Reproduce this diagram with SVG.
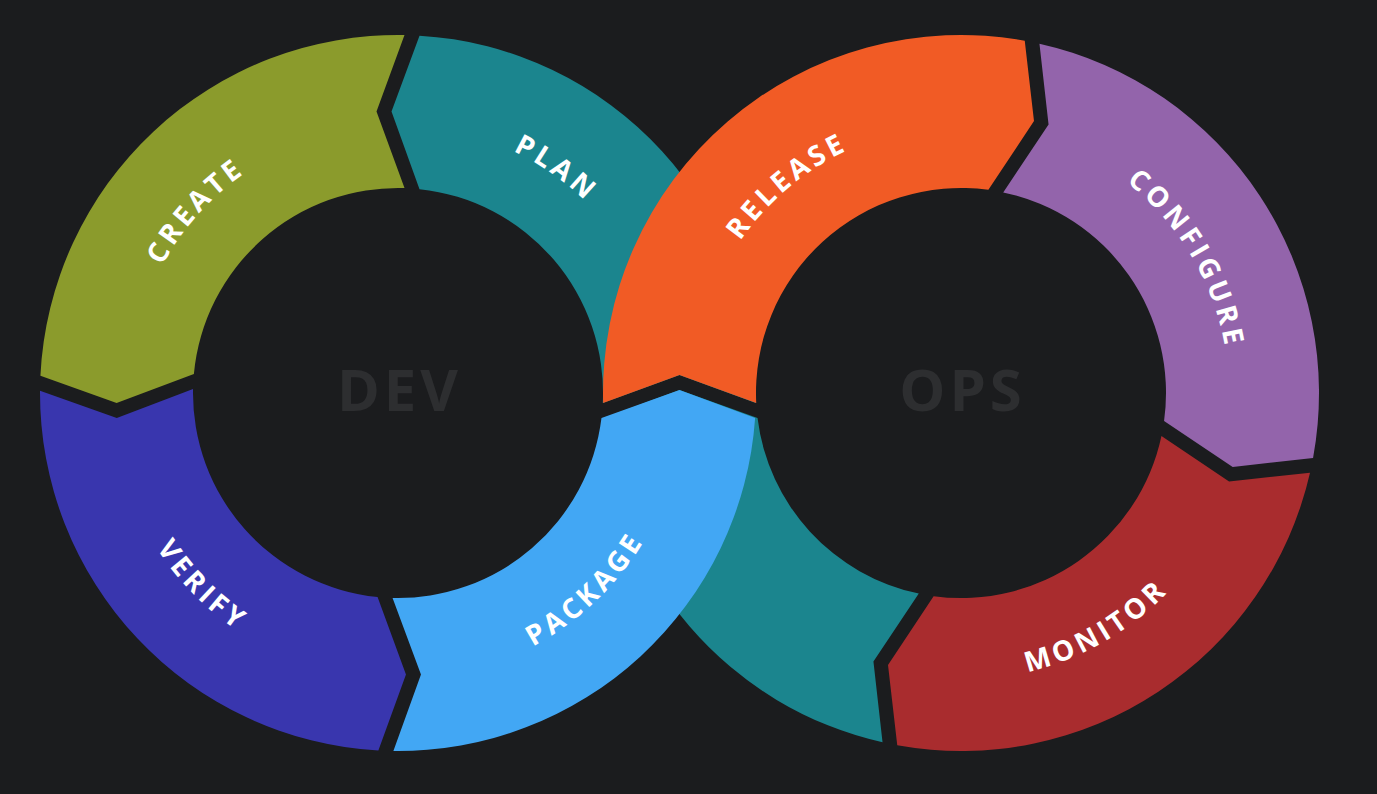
<svg xmlns="http://www.w3.org/2000/svg" width="1377" height="794" viewBox="0 0 1377 794">
<defs>
<style>
.lbl{font-family:"Open Sans","Liberation Sans",sans-serif;font-weight:700;font-size:28px;letter-spacing:4px;fill:#ffffff;text-anchor:middle;}
.hub{font-family:"Open Sans","Liberation Sans",sans-serif;font-weight:700;font-size:58px;letter-spacing:4px;fill:#2d2e30;text-anchor:middle;}
.plan{fill:#1b858e}.create{fill:#8b9b2c}.verify{fill:#3936ae}.package{fill:#42a7f4}
.release{fill:#f15b25}.configure{fill:#9364ab}.monitor{fill:#a92c2e}
</style>
<path id="arcTop" d="M -189.50 -189.50 A 268 268 0 0 1 189.50 -189.50"/>
<path id="arcBot" d="M -202.94 202.94 A 287 287 0 0 0 202.94 202.94"/>
</defs>
<rect width="1377" height="794" fill="#1b1c1e"/>

<g id="plan">
<path class="plan" d="M 882.54 742.30 A 358 358 0 0 1 603.87 418 L 679.5 390 L 757.53 418 A 205 205 0 0 0 918.79 593.61 L 873.44 661.40 Z"/>
<path class="plan" d="M 755.86 403 A 358 358 0 0 0 419.5 35.65 L 391.5 111.5 L 419.5 189.13 A 205 205 0 0 1 602.76 403 L 679.5 375 Z"/>
<text class="lbl" transform="translate(398,393) rotate(34.7)"><textPath href="#arcTop" startOffset="212.5">PLAN</textPath></text>
</g>

<g id="create">
<path class="create" d="M 404.5 35.06 A 358 358 0 0 0 40.42 375.87 L 116.60 402.94 L 193.88 373.99 A 205 205 0 0 1 404.5 188.10 L 376.5 111.5 Z"/>
<text class="lbl" transform="translate(398,393) rotate(-48.5)"><textPath href="#arcTop" startOffset="212.5">CREATE</textPath></text>
</g>

<g id="verify">
<path class="verify" d="M 40.01 390.87 A 358 358 0 0 0 378.37 750.46 L 405.97 674.47 L 377.57 596.98 A 205 205 0 0 1 193.03 389.00 L 116.78 417.94 Z"/>
<text class="lbl" transform="translate(398,393) rotate(45.9)"><textPath href="#arcBot" startOffset="227.4">VERIFY</textPath></text>
</g>

<g id="package">
<path class="package" d="M 393.38 750.97 A 358 358 0 0 0 755.13 418 L 679.5 390 L 601.47 418 A 205 205 0 0 1 392.57 597.93 L 420.97 674.39 Z"/>
<text class="lbl" transform="translate(398,393) rotate(-43.2)"><textPath href="#arcBot" startOffset="227.4">PACKAGE</textPath></text>
</g>

<g id="release">
<path class="release" d="M 603.14 403 A 358 358 0 0 1 1024.75 40.73 L 1033.99 121.05 L 988.39 189.84 A 205 205 0 0 0 756.24 403 L 679.5 375 Z"/>
<text class="lbl" transform="translate(961,393) rotate(-40.5)"><textPath href="#arcTop" startOffset="212.5">RELEASE</textPath></text>
</g>

<g id="configure">
<path class="configure" d="M 1039.46 43.70 A 358 358 0 0 1 1313.06 457.98 L 1232.70 466.93 L 1164.07 421.11 A 205 205 0 0 0 1003.21 192.39 L 1048.56 124.60 Z"/>
<text class="lbl" transform="translate(961,393) rotate(58.9)"><textPath href="#arcTop" startOffset="212.5">CONFIGURE</textPath></text>
</g>

<g id="monitor">
<path class="monitor" d="M 1310.02 472.68 A 358 358 0 0 1 897.25 745.27 L 888.01 664.95 L 933.61 596.16 A 205 205 0 0 0 1161.46 435.91 L 1229.09 481.49 Z"/>
<text class="lbl" transform="translate(961,393) rotate(-29.5)"><textPath href="#arcBot" startOffset="227.4">MONITOR</textPath></text>
</g>

<g id="dev">
<text class="hub" x="399.5" y="411">DEV</text>
</g>
<g id="ops">
<text class="hub" x="962.5" y="411">OPS</text>
</g>
</svg>
